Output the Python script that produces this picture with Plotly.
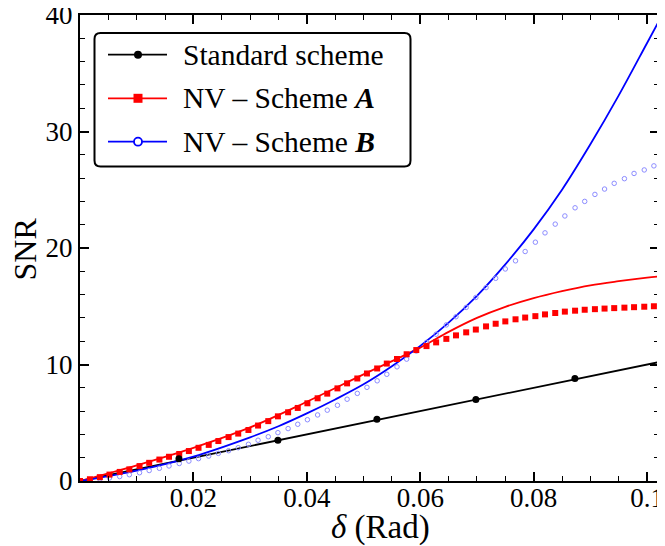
import plotly.graph_objects as go

# ---------------- data ----------------
# Standard scheme (theory line and data dots)
std_line_x = [0.0, 0.102]
std_line_y = [0.0, 10.2]
std_pts_x = [0.01745, 0.0349, 0.05236, 0.06981, 0.08727]
std_pts_y = [1.9, 3.5, 5.3, 7.0, 8.8]

# NV - Scheme A theory line
a_line_x = [0.0, 0.01, 0.02, 0.03, 0.04, 0.05, 0.06, 0.065, 0.07, 0.075, 0.08, 0.085, 0.09, 0.095, 0.1, 0.102]
a_line_y = [0.0, 1.35, 2.85, 4.6, 6.8, 9.15, 11.45, 12.8, 14.0, 14.95, 15.7, 16.3, 16.8, 17.15, 17.45, 17.55]

# NV - Scheme B theory line
b_line_x = [0.0, 0.01, 0.02, 0.03, 0.035, 0.04, 0.045, 0.05, 0.055, 0.06, 0.065, 0.07, 0.075, 0.08, 0.085, 0.09, 0.095, 0.1, 0.102]
b_line_y = [0.0, 0.9, 2.1, 3.75, 4.7, 5.8, 7.0, 8.3, 9.85, 11.6, 13.6, 15.9, 18.6, 21.6, 25.0, 28.9, 33.1, 37.6, 39.4]

# sampled points (every 0.1 degree)
pts_x = [0.0, 0.00175, 0.0035, 0.0052, 0.0070, 0.0087, 0.0105, 0.0122, 0.0140, 0.0157,
         0.0175, 0.0192, 0.0209, 0.0227, 0.0244, 0.0262, 0.0279, 0.0297, 0.0314, 0.0332,
         0.0349, 0.0367, 0.0384, 0.0401, 0.0419, 0.0436, 0.0454, 0.0471, 0.0489, 0.0506,
         0.0524, 0.0541, 0.0559, 0.0576, 0.0593, 0.0611, 0.0628, 0.0646, 0.0663, 0.0681,
         0.0698, 0.0716, 0.0733, 0.0750, 0.0768, 0.0785, 0.0803, 0.0820, 0.0838, 0.0855,
         0.0873, 0.0890, 0.0908, 0.0925, 0.0942, 0.0960, 0.0977, 0.0995, 0.1012]
a_pts_y = [0.0, 0.15, 0.33, 0.55, 0.78, 1.0, 1.28, 1.56, 1.84, 2.08,
           2.32, 2.57, 2.85, 3.1, 3.43, 3.77, 4.07, 4.38, 4.76, 5.14,
           5.55, 5.9, 6.27, 6.67, 7.1, 7.5, 7.95, 8.38, 8.8, 9.23,
           9.66, 10.08, 10.47, 10.88, 11.24, 11.58, 11.9, 12.2, 12.5, 12.76,
           13.0, 13.27, 13.5, 13.7, 13.88, 14.03, 14.15, 14.3, 14.42, 14.54,
           14.62, 14.7, 14.75, 14.8, 14.84, 14.88, 14.92, 14.96, 15.0]
b_pts_y = [0.0, 0.08, 0.17, 0.26, 0.38, 0.54, 0.71, 0.9, 1.09, 1.29,
           1.5, 1.71, 1.92, 2.14, 2.37, 2.6, 2.86, 3.15, 3.5, 3.8,
           4.15, 4.5, 4.87, 5.26, 5.67, 6.08, 6.5, 7.02, 7.52, 8.04,
           8.6, 9.16, 9.8, 10.46, 11.16, 11.9, 12.6, 13.4, 14.1, 14.9,
           15.75, 16.6, 17.4, 18.2, 18.9, 19.7, 20.5, 21.3, 22.05, 22.75,
           23.45, 24.0, 24.6, 25.06, 25.55, 25.95, 26.4, 26.7, 27.05]

x_tickvals = [0.02, 0.04, 0.06, 0.08, 0.1]
x_ticktext = ["0.02", "0.04", "0.06", "0.08", "0.1"]
y_tickvals = [0, 10, 20, 30, 40]

legend_names = ["Standard scheme", "NV – Scheme <b><i>A</i></b>", "NV – Scheme <b><i>B</i></b>"]
legend_colors = ["black", "#ff0000", "#0000ff"]
legend_symbols = ["circle", "square", "circle"]
legend_fills = ["black", "#ff0000", "white"]

# ---------------- figure ----------------
FONT = "Liberation Serif"
W, H = 665, 546
PAGE_OFF = 8                     # default body margin of the html page
# wanted plot area in page pixels
px_left, px_right, px_top, px_bottom = 80, 659, 15, 481
L = px_left - PAGE_OFF
T = px_top - PAGE_OFF
R = W - L - (px_right - px_left)
B = H - T - (px_bottom - px_top)

fig = go.Figure()

fig.add_trace(go.Scatter(x=std_line_x, y=std_line_y, mode="lines",
                         line=dict(color="black", width=1.8), showlegend=False))
fig.add_trace(go.Scatter(x=a_line_x, y=a_line_y, mode="lines", line_shape="spline",
                         line=dict(color="#ff0000", width=1.8), showlegend=False))
fig.add_trace(go.Scatter(x=b_line_x, y=b_line_y, mode="lines", line_shape="spline",
                         line=dict(color="#0000ff", width=1.8), showlegend=False))

fig.add_trace(go.Scatter(x=pts_x, y=b_pts_y, mode="markers",
                         marker=dict(symbol="circle-open", size=4.5, color="#8c8cff",
                                     line=dict(width=1)), showlegend=False))
fig.add_trace(go.Scatter(x=pts_x, y=a_pts_y, mode="markers",
                         marker=dict(symbol="square", size=6, color="#ff0000"), showlegend=False))
fig.add_trace(go.Scatter(x=std_pts_x, y=std_pts_y, mode="markers",
                         marker=dict(symbol="circle", size=7, color="black"), showlegend=False))

# ---- hand-made legend on an overlay axis measured in page pixels ----
box = dict(x0=94.5, x1=410.5, y0=33, y1=166.5, r=6)
entry_y = [54.7, 98.3, 141.7]
line_x0, line_x1, mark_x, text_x = 108, 167, 138, 181

x0, x1, y0, y1, r = box["x0"], box["x1"], box["y0"], box["y1"], box["r"]
path = (f"M{x0+r},{y0} L{x1-r},{y0} Q{x1},{y0} {x1},{y0+r} L{x1},{y1-r} Q{x1},{y1} {x1-r},{y1} "
        f"L{x0+r},{y1} Q{x0},{y1} {x0},{y1-r} L{x0},{y0+r} Q{x0},{y0} {x0+r},{y0} Z")
shapes = [dict(type="path", path=path, xref="x2", yref="y2", layer="below",
               fillcolor="white", line=dict(color="black", width=2))]
annotations = []
for i, ey in enumerate(entry_y):
    shapes.append(dict(type="line", xref="x2", yref="y2", layer="below",
                       x0=line_x0, x1=line_x1, y0=ey, y1=ey,
                       line=dict(color=legend_colors[i], width=1.8)))
    annotations.append(dict(xref="x2", yref="y2", x=text_x, y=ey, xanchor="left", yanchor="middle",
                            text=legend_names[i], showarrow=False,
                            font=dict(family=FONT, size=29.5, color="black")))
    fig.add_trace(go.Scatter(x=[mark_x], y=[ey], mode="markers", xaxis="x2", yaxis="y2",
                             showlegend=False, hoverinfo="skip",
                             marker=dict(symbol=legend_symbols[i], size=8 if i != 1 else 9,
                                         color=legend_fills[i],
                                         line=dict(color=legend_colors[i], width=1.8 if i == 2 else 0))))

# axis titles
annotations.append(dict(xref="paper", yref="paper", x=(380 - px_left) / (px_right - px_left),
                        y=(px_bottom - 527) / (px_bottom - px_top),
                        xanchor="center", yanchor="middle", showarrow=False,
                        text="<i>δ</i> (Rad)", font=dict(family=FONT, size=33, color="black")))
annotations.append(dict(xref="paper", yref="paper", x=(24.5 - px_left) / (px_right - px_left),
                        y=(px_bottom - 249) / (px_bottom - px_top),
                        xanchor="center", yanchor="middle", showarrow=False, textangle=-90,
                        text="SNR", font=dict(family=FONT, size=32, color="black")))

axis_common = dict(showline=True, linecolor="black", linewidth=2, mirror="ticks",
                   ticks="inside", ticklen=9, tickwidth=1.5, tickcolor="black",
                   showgrid=False, zeroline=False, automargin=False,
                   ticklabeloverflow="allow",
                   tickfont=dict(family=FONT, size=27, color="black"))

fig.update_xaxes(range=[0, 0.1021], tickmode="array", tickvals=x_tickvals, ticktext=x_ticktext,
                 ticklabelstandoff=-8,
                 minor=dict(tickmode="linear", tick0=0, dtick=0.005, ticks="inside",
                            ticklen=5, tickwidth=1.2, tickcolor="black", showgrid=False),
                 **axis_common)
fig.update_yaxes(range=[0, 40], tickmode="array", tickvals=y_tickvals,
                 minor=dict(tickmode="linear", tick0=0, dtick=2, ticks="inside",
                            ticklen=5, tickwidth=1.2, tickcolor="black", showgrid=False),
                 **axis_common)

fig.update_layout(
    width=W, height=H,
    margin=dict(l=L, r=R, t=T, b=B),
    plot_bgcolor="white", paper_bgcolor="white",
    showlegend=False,
    xaxis2=dict(overlaying="x", range=[px_left, px_right], visible=False, fixedrange=True),
    yaxis2=dict(overlaying="y", range=[px_bottom, px_top], visible=False, fixedrange=True),
    shapes=shapes, annotations=annotations,
)

fig.write_html("out.html")
